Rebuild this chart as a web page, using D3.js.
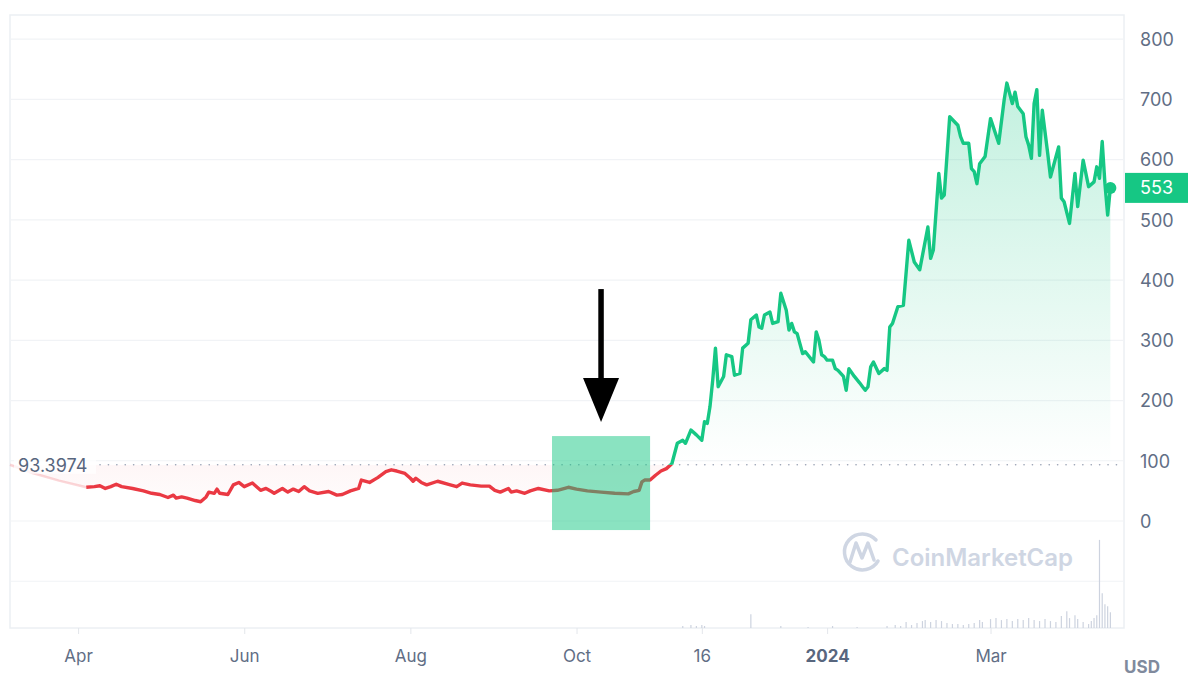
<!DOCTYPE html>
<html>
<head>
<meta charset="utf-8">
<script src="https://cdn.jsdelivr.net/npm/d3@7"></script>
<style>
  body { margin: 0; background: #fff; font-family: Inter, "Noto Sans", sans-serif; }
</style>
</head>
<body>
<div id="chart"></div>
<script>
// price, [date, USD]
var priceSeries = [
  ["2023-03-07", 93.4], ["2023-03-15", 80], ["2023-03-25", 67], ["2023-04-04", 56],
  ["2023-04-07", 57], ["2023-04-09", 58.6], ["2023-04-11", 54], ["2023-04-13", 57],
  ["2023-04-15", 61], ["2023-04-17", 57], ["2023-04-21", 54], ["2023-04-25", 50],
  ["2023-04-28", 46], ["2023-05-01", 44], ["2023-05-04", 39], ["2023-05-06", 43],
  ["2023-05-07", 38], ["2023-05-09", 40], ["2023-05-11", 38], ["2023-05-14", 34],
  ["2023-05-16", 32], ["2023-05-18", 40], ["2023-05-19", 48], ["2023-05-21", 46],
  ["2023-05-22", 53], ["2023-05-23", 46], ["2023-05-26", 44], ["2023-05-28", 60],
  ["2023-05-30", 64], ["2023-06-01", 57], ["2023-06-04", 63], ["2023-06-07", 51],
  ["2023-06-09", 54], ["2023-06-11", 49], ["2023-06-12", 46], ["2023-06-15", 54],
  ["2023-06-17", 48], ["2023-06-19", 53], ["2023-06-21", 49], ["2023-06-23", 57],
  ["2023-06-25", 50], ["2023-06-28", 46], ["2023-07-02", 49], ["2023-07-05", 43],
  ["2023-07-07", 44], ["2023-07-10", 50], ["2023-07-13", 54], ["2023-07-14", 68],
  ["2023-07-17", 64], ["2023-07-20", 72], ["2023-07-23", 82], ["2023-07-25", 85],
  ["2023-07-27", 83], ["2023-07-30", 79], ["2023-08-01", 71], ["2023-08-02", 66],
  ["2023-08-03", 71], ["2023-08-05", 64], ["2023-08-07", 60], ["2023-08-11", 66],
  ["2023-08-15", 61], ["2023-08-18", 57], ["2023-08-20", 63], ["2023-08-23", 60],
  ["2023-08-27", 58], ["2023-08-30", 58], ["2023-09-01", 51], ["2023-09-03", 48],
  ["2023-09-06", 54], ["2023-09-07", 48], ["2023-09-09", 50], ["2023-09-12", 46],
  ["2023-09-14", 50], ["2023-09-17", 54], ["2023-09-21", 50], ["2023-09-24", 51],
  ["2023-09-28", 56], ["2023-10-01", 53], ["2023-10-05", 50], ["2023-10-10", 48],
  ["2023-10-15", 46], ["2023-10-20", 45], ["2023-10-22", 49], ["2023-10-24", 51],
  ["2023-10-25", 65], ["2023-10-26", 68], ["2023-10-28", 68], ["2023-10-30", 76],
  ["2023-11-01", 83], ["2023-11-03", 87], ["2023-11-05", 95], ["2023-11-07", 129],
  ["2023-11-09", 134], ["2023-11-10", 129], ["2023-11-12", 151], ["2023-11-14", 143],
  ["2023-11-16", 134], ["2023-11-17", 165], ["2023-11-18", 162], ["2023-11-19", 190],
  ["2023-11-20", 234], ["2023-11-21", 287], ["2023-11-22", 223], ["2023-11-24", 240],
  ["2023-11-25", 276], ["2023-11-27", 273], ["2023-11-28", 242], ["2023-11-30", 245],
  ["2023-12-01", 287], ["2023-12-03", 295], ["2023-12-04", 334], ["2023-12-06", 342],
  ["2023-12-07", 322], ["2023-12-08", 320], ["2023-12-09", 342], ["2023-12-11", 347],
  ["2023-12-12", 328], ["2023-12-14", 331], ["2023-12-15", 378], ["2023-12-17", 350],
  ["2023-12-18", 317], ["2023-12-19", 328], ["2023-12-20", 314], ["2023-12-21", 311],
  ["2023-12-23", 278], ["2023-12-24", 281], ["2023-12-27", 264], ["2023-12-28", 314],
  ["2023-12-29", 300], ["2023-12-30", 276], ["2023-12-31", 273], ["2024-01-01", 267],
  ["2024-01-03", 267], ["2024-01-04", 253], ["2024-01-05", 250], ["2024-01-07", 240],
  ["2024-01-08", 217], ["2024-01-09", 253], ["2024-01-11", 240], ["2024-01-13", 229],
  ["2024-01-14", 223], ["2024-01-15", 217], ["2024-01-16", 223], ["2024-01-17", 256],
  ["2024-01-18", 264], ["2024-01-20", 245], ["2024-01-22", 253], ["2024-01-23", 250],
  ["2024-01-24", 322], ["2024-01-25", 328], ["2024-01-27", 356], ["2024-01-29", 358],
  ["2024-01-31", 466], ["2024-02-02", 430], ["2024-02-04", 417], ["2024-02-07", 488],
  ["2024-02-08", 436], ["2024-02-09", 450], ["2024-02-11", 577], ["2024-02-12", 536],
  ["2024-02-13", 541], ["2024-02-15", 671], ["2024-02-18", 657], ["2024-02-19", 638],
  ["2024-02-20", 627], ["2024-02-22", 627], ["2024-02-23", 585], ["2024-02-24", 580],
  ["2024-02-25", 560], ["2024-02-26", 593], ["2024-02-28", 605], ["2024-03-01", 668],
  ["2024-03-04", 627], ["2024-03-06", 699], ["2024-03-07", 727], ["2024-03-09", 693],
  ["2024-03-10", 712], ["2024-03-11", 688], ["2024-03-13", 676], ["2024-03-14", 638],
  ["2024-03-15", 624], ["2024-03-16", 602], ["2024-03-17", 693], ["2024-03-18", 716],
  ["2024-03-19", 607], ["2024-03-20", 682], ["2024-03-22", 610], ["2024-03-23", 571],
  ["2024-03-26", 621], ["2024-03-27", 536], ["2024-03-28", 530], ["2024-03-30", 494],
  ["2024-04-01", 577], ["2024-04-02", 522], ["2024-04-04", 599], ["2024-04-06", 555],
  ["2024-04-08", 563], ["2024-04-09", 588], ["2024-04-10", 569], ["2024-04-11", 630],
  ["2024-04-12", 560], ["2024-04-13", 508], ["2024-04-14", 553]
];

// volume, relative units (peak ~ 89)
var volumeSeries = [
  ["2023-11-09", 2], ["2023-11-12", 3], ["2023-11-14", 2], ["2023-11-16", 3], ["2023-11-17", 2],
  ["2023-12-04", 14], ["2023-12-15", 2], ["2023-12-25", 1], ["2024-01-03", 2], ["2024-01-12", 1],
  ["2024-01-23", 2], ["2024-01-26", 3], ["2024-01-28", 2], ["2024-01-30", 6], ["2024-02-01", 3],
  ["2024-02-03", 5], ["2024-02-05", 7], ["2024-02-06", 8], ["2024-02-08", 6], ["2024-02-10", 8],
  ["2024-02-12", 7], ["2024-02-14", 5], ["2024-02-16", 4], ["2024-02-18", 4], ["2024-02-20", 3],
  ["2024-02-22", 4], ["2024-02-24", 5], ["2024-02-26", 8], ["2024-02-27", 6], ["2024-03-01", 9],
  ["2024-03-03", 10], ["2024-03-05", 8], ["2024-03-07", 9], ["2024-03-09", 7], ["2024-03-11", 9],
  ["2024-03-13", 8], ["2024-03-15", 10], ["2024-03-17", 8], ["2024-03-19", 7], ["2024-03-21", 9],
  ["2024-03-23", 7], ["2024-03-25", 6], ["2024-03-27", 12], ["2024-03-29", 17], ["2024-03-30", 10],
  ["2024-04-01", 13], ["2024-04-02", 9], ["2024-04-04", 6], ["2024-04-06", 4], ["2024-04-07", 7],
  ["2024-04-08", 10], ["2024-04-09", 13], ["2024-04-10", 89], ["2024-04-11", 35], ["2024-04-12", 24],
  ["2024-04-13", 22], ["2024-04-14", 16]
];

var refPrice = 93.3974;
var lastPriceLabel = "553";
var yTicks = [0, 100, 200, 300, 400, 500, 600, 700, 800];
var gridValues = [-100, 0, 100, 200, 300, 400, 500, 600, 700, 800];
var xTickDates = ["2023-04-01", "2023-06-01", "2023-08-01", "2023-10-01", "2023-11-16", "2024-01-01", "2024-03-01"];
var xTickLabels = ["Apr", "Jun", "Aug", "Oct", "16", "2024", "Mar"];
var fadeUntil = "2023-04-04";
// highlighted window (annotation)
var highlightDates = ["2023-09-22", "2023-10-28"];
var highlightValues = [-15, 141];

var parse = d3.timeParse("%Y-%m-%d");
var width = 1200, height = 679;
var plot = {left: 10, top: 15, right: 1124, bottom: 628};
var green = "#16c784", red = "#ea3943";

var svg = d3.select("#chart").append("svg")
    .attr("width", width)
    .attr("height", height);

var x = d3.scaleTime()
    .domain([parse("2023-03-07"), parse("2024-04-19")])
    .range([plot.left, plot.right]);
var y = d3.scaleLinear()
    .domain([-177.6, 840])
    .range([plot.bottom, plot.top]);
var vy = d3.scaleLinear()
    .domain([0, 100])
    .range([plot.bottom, plot.bottom - 99]);

var data = priceSeries.map(function(d){ return {date: parse(d[0]), v: d[1]} });
var fadeDate = parse(fadeUntil);
var fadedData = data.filter(function(d){ return d.date <= fadeDate });
var mainData = data.filter(function(d){ return d.date >= fadeDate });
var yRef = y(refPrice);

// frame + grid
svg.append("rect")
    .attr("x", plot.left).attr("y", plot.top)
    .attr("width", plot.right - plot.left).attr("height", plot.bottom - plot.top)
    .attr("fill", "none").attr("stroke", "#eceff3").attr("stroke-width", 1.5);

svg.append("g").selectAll("line")
  .data(gridValues)
  .enter().append("line")
    .attr("x1", plot.left).attr("x2", plot.right)
    .attr("y1", function(d){ return y(d) }).attr("y2", function(d){ return y(d) })
    .attr("stroke", "#f1f3f6").attr("stroke-width", 1.2);

// volume bars
svg.append("g").selectAll("line")
  .data(volumeSeries)
  .enter().append("line")
    .attr("x1", function(d){ return x(parse(d[0])) })
    .attr("x2", function(d){ return x(parse(d[0])) })
    .attr("y1", vy(0))
    .attr("y2", function(d){ return vy(d[1]) })
    .attr("stroke", "#cdd3df").attr("stroke-width", 1.2);

// watermark
var wm = svg.append("g").attr("fill", "none").attr("stroke", "#cfd6e3");
wm.append("path")
    .attr("d", "M876,540 A18,18 0 1 0 878,561")
    .attr("stroke-width", 3.5).attr("stroke-linecap", "round");
wm.append("path")
    .attr("d", "M850,562 L856,543 L862,558 L868,543 L874,560")
    .attr("stroke-width", 3.5).attr("stroke-linecap", "round").attr("stroke-linejoin", "round");
svg.append("text")
    .attr("x", 892).attr("y", 566)
    .attr("font-size", 24).attr("font-weight", 600)
    .attr("textLength", 181)
    .attr("fill", "#cfd6e3")
    .text("CoinMarketCap");

// clips and gradients
var defs = svg.append("defs");
defs.append("clipPath").attr("id", "clip-up").append("rect")
    .attr("x", plot.left).attr("y", plot.top)
    .attr("width", plot.right - plot.left).attr("height", yRef - plot.top);
defs.append("clipPath").attr("id", "clip-down").append("rect")
    .attr("x", plot.left).attr("y", yRef)
    .attr("width", plot.right - plot.left).attr("height", plot.bottom - yRef);

var gUp = defs.append("linearGradient").attr("id", "grad-up")
    .attr("gradientUnits", "userSpaceOnUse")
    .attr("x1", 0).attr("x2", 0).attr("y1", y(730)).attr("y2", yRef);
gUp.append("stop").attr("offset", 0).attr("stop-color", green).attr("stop-opacity", 0.26);
gUp.append("stop").attr("offset", 1).attr("stop-color", green).attr("stop-opacity", 0.0);

var gDown = defs.append("linearGradient").attr("id", "grad-down")
    .attr("gradientUnits", "userSpaceOnUse")
    .attr("x1", 0).attr("x2", 0).attr("y1", yRef).attr("y2", y(30));
gDown.append("stop").attr("offset", 0).attr("stop-color", red).attr("stop-opacity", 0.045);
gDown.append("stop").attr("offset", 1).attr("stop-color", red).attr("stop-opacity", 0.015);

var area = d3.area()
    .x(function(d){ return x(d.date) })
    .y0(yRef)
    .y1(function(d){ return y(d.v) });
var line = d3.line()
    .x(function(d){ return x(d.date) })
    .y(function(d){ return y(d.v) });

svg.append("path").datum(data)
    .attr("clip-path", "url(#clip-up)")
    .attr("fill", "url(#grad-up)")
    .attr("d", area);
svg.append("path").datum(data)
    .attr("clip-path", "url(#clip-down)")
    .attr("fill", "url(#grad-down)")
    .attr("d", area);

// reference dotted line
svg.append("line")
    .attr("x1", 100).attr("x2", 1120)
    .attr("y1", yRef).attr("y2", yRef)
    .attr("stroke", "#9aa3b5").attr("stroke-width", 1.6)
    .attr("stroke-linecap", "round")
    .attr("stroke-dasharray", "0.1,8.3");

// faded start of the line
svg.append("path").datum(fadedData)
    .attr("fill", "none").attr("stroke", red).attr("stroke-opacity", 0.2)
    .attr("stroke-width", 2.5).attr("d", line);

svg.append("path").datum(mainData)
    .attr("clip-path", "url(#clip-down)")
    .attr("fill", "none").attr("stroke", red).attr("stroke-width", 3.4)
    .attr("stroke-linejoin", "round").attr("d", line);
svg.append("path").datum(mainData)
    .attr("clip-path", "url(#clip-up)")
    .attr("fill", "none").attr("stroke", green).attr("stroke-width", 3.4)
    .attr("stroke-linejoin", "round").attr("d", line);

var last = data[data.length - 1];
svg.append("circle")
    .attr("cx", x(last.date)).attr("cy", y(last.v)).attr("r", 6)
    .attr("fill", green);

// reference label
svg.append("rect")
    .attr("x", 14).attr("y", yRef - 11).attr("width", 82).attr("height", 20)
    .attr("fill", "#fff").attr("fill-opacity", 0.75);
svg.append("text")
    .attr("x", 18).attr("y", yRef + 1)
    .attr("dominant-baseline", "central")
    .attr("font-size", 18).attr("fill", "#58667e")
    .text(refPrice);

// right axis
var yAxis = svg.append("g")
    .attr("transform", "translate(1140,0)")
    .call(d3.axisRight(y).tickValues(yTicks).tickSize(0).tickPadding(0));
yAxis.select(".domain").remove();
yAxis.selectAll("text")
    .attr("font-family", "Inter, sans-serif")
    .attr("font-size", 18).attr("fill", "#616e85")
    .attr("text-anchor", "start").attr("dy", "0.35em");

svg.append("rect")
    .attr("x", 1125).attr("y", y(553) - 15).attr("width", 63).attr("height", 30)
    .attr("fill", green);
svg.append("text")
    .attr("x", 1140).attr("y", y(553))
    .attr("dy", "0.35em")
    .attr("font-size", 18).attr("fill", "#fff")
    .text(lastPriceLabel);

// bottom axis
var xAxis = svg.append("g")
    .attr("transform", "translate(0," + plot.bottom + ")")
    .call(d3.axisBottom(x)
      .tickValues(xTickDates.map(parse))
      .tickFormat(function(d, i){ return xTickLabels[i] })
      .tickSize(6).tickPadding(16));
xAxis.select(".domain").remove();
xAxis.selectAll(".tick line").attr("stroke", "#e3e6eb");
xAxis.selectAll("text")
    .attr("font-family", "Inter, sans-serif")
    .attr("font-size", 17)
    .attr("font-weight", function(d, i){ return xTickLabels[i] == "2024" ? 700 : 400 })
    .attr("fill", function(d, i){ return xTickLabels[i] == "2024" ? "#58667e" : "#616e85" });

svg.append("text")
    .attr("x", 1142).attr("y", 673)
    .attr("text-anchor", "middle")
    .attr("font-size", 17).attr("font-weight", 700).attr("fill", "#808a9d")
    .text("USD");

// highlight box and arrow
var hx0 = x(parse(highlightDates[0])), hx1 = x(parse(highlightDates[1]));
var hy0 = y(highlightValues[1]), hy1 = y(highlightValues[0]);
svg.append("rect")
    .attr("x", hx0).attr("y", hy0)
    .attr("width", hx1 - hx0).attr("height", hy1 - hy0)
    .attr("fill", green).attr("fill-opacity", 0.5);

var ax = (hx0 + hx1) / 2;
svg.append("line")
    .attr("x1", ax).attr("x2", ax)
    .attr("y1", hy0 - 147).attr("y2", hy0 - 52)
    .attr("stroke", "#000").attr("stroke-width", 5.5);
svg.append("path")
    .attr("d", "M" + (ax - 18) + "," + (hy0 - 58) + " L" + (ax + 18) + "," + (hy0 - 58) + " L" + ax + "," + (hy0 - 14) + " Z")
    .attr("fill", "#000");
</script>
</body>
</html>
